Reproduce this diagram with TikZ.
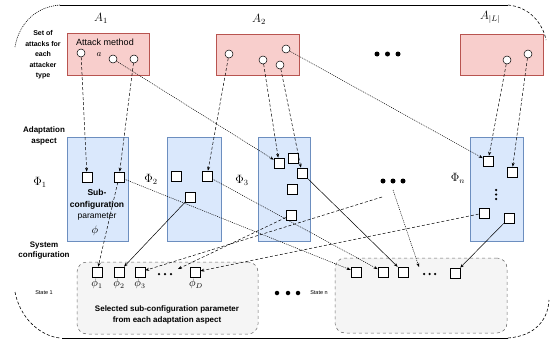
\documentclass[tikz,border=0pt]{standalone}
\usepackage{fontspec}
\setmainfont{Liberation Sans}
\usetikzlibrary{arrows.meta}
\definecolor{pinkfill}{HTML}{F8CECC}
\definecolor{pinkdraw}{HTML}{B85450}
\definecolor{bluefill}{HTML}{DAE8FC}
\definecolor{bluedraw}{HTML}{6C8EBF}
\definecolor{statefill}{HTML}{F5F5F5}
\definecolor{statedraw}{HTML}{666666}
\tikzset{
  circ/.style={circle,draw,fill=white,minimum size=8pt,inner sep=0pt,line width=0.5pt},
  sq/.style={rectangle,draw,fill=white,minimum size=10pt,inner sep=0pt,line width=0.6pt},
  pinkbox/.style={rectangle,draw=pinkdraw,fill=pinkfill,line width=0.7pt,inner sep=0pt},
  bluebox/.style={rectangle,draw=bluedraw,fill=bluefill,line width=0.7pt,inner sep=0pt},
  statebox/.style={rectangle,rounded corners=10pt,draw=statedraw,fill=statefill,dashed,line width=0.5pt,inner sep=0pt},
  arr/.style={-{Stealth[length=4pt,width=3pt]},line width=0.5pt},
  dsh/.style={dash pattern=on 3pt off 2pt},
  dt/.style={dash pattern=on 1pt off 1pt},
  lbl/.style={font=\bfseries\fontsize{7.5}{9.5}\selectfont,align=center,inner sep=0pt},
  bigdot/.style={circle,fill=black,minimum size=5pt,inner sep=0pt},
  smalldot/.style={circle,fill=black,minimum size=2.5pt,inner sep=0pt},
  mathlbl/.style={font=\fontsize{11.5}{13}\selectfont,inner sep=0pt},
  phlbl/.style={font=\fontsize{10.5}{12}\selectfont,inner sep=0pt}
}
\begin{document}
\begin{tikzpicture}[x=1pt,y=-1pt]
\useasboundingbox (0,0) rectangle (551,343);
% outer frame
\draw[line width=0.7pt] (60,5) -- (508,5);
\draw[line width=0.7pt] (62,338) -- (508,338);
\draw[dt,line width=0.6pt] (60,5) .. controls (32,7) and (18,28) .. (15,47);
\draw[dsh,line width=0.6pt] (508,5) .. controls (530,7) and (543,24) .. (546,40);
\draw[dsh,line width=0.6pt] (15,292) .. controls (20,318) and (40,336) .. (60,338);
\draw[dsh,line width=0.6pt] (508,338) .. controls (535,336) and (548,320) .. (549,300);

% top row: attack boxes
\node[pinkbox,minimum width=82,minimum height=42] (A1box) at (108,54) {};
\node[pinkbox,minimum width=83,minimum height=41] (A2box) at (257.5,54.5) {};
\node[pinkbox,minimum width=83,minimum height=41] (ALbox) at (501.5,54.5) {};
\node[mathlbl] (A1lbl) at (101,18) {$A_1$};
\node[mathlbl] (A2lbl) at (259,19) {$A_2$};
\node[mathlbl] (ALlbl) at (490,17) {$A_{|L|}$};
\node[font=\fontsize{9}{11}\selectfont,inner sep=0pt] (attm) at (105,42.5) {Attack method};
\node[font=\fontsize{9.5}{11}\selectfont,inner sep=0pt] (alpha) at (99,55) {$a$};
\node[circ] (a1c1) at (81,53) {};
\node[circ] (a1c2) at (113,59) {};
\node[circ] (a1c3) at (134,59) {};
\node[circ] (a2c1) at (229,54) {};
\node[circ] (a2c2) at (263,60) {};
\node[circ] (a2c3) at (280,65) {};
\node[circ] (a2c4) at (286,49) {};
\node[circ] (alc1) at (507,60) {};
\node[circ] (alc2) at (528,54) {};
\node[bigdot] (td1) at (377,54) {};
\node[bigdot] (td2) at (387.5,54) {};
\node[bigdot] (td3) at (398,54) {};
\node[lbl,font=\bfseries\fontsize{7}{10.5}\selectfont] (setlbl) at (43,55) {Set of\\attacks for\\each\\attacker\\type};

% middle row: adaptation aspects
\node[lbl,font=\bfseries\fontsize{8}{10.5}\selectfont] (adlbl) at (44,136) {Adaptation\\aspect};
\node[bluebox,minimum width=61,minimum height=104] (P1box) at (97.5,189) {};
\node[bluebox,minimum width=54,minimum height=104] (P2box) at (194,189) {};
\node[bluebox,minimum width=52,minimum height=104] (P3box) at (284,189) {};
\node[bluebox,minimum width=53,minimum height=104] (Pnbox) at (496.5,189) {};
\node[mathlbl] (P1lbl) at (40,182) {$\Phi_1$};
\node[mathlbl] (P2lbl) at (151,179) {$\Phi_2$};
\node[mathlbl] (P3lbl) at (242,180) {$\Phi_3$};
\node[mathlbl] (Pnlbl) at (458,178) {$\Phi_n$};
\node[sq] (p1s1) at (87,177) {};
\node[sq] (p1s2) at (119,177) {};
\node[lbl,font=\bfseries\fontsize{8.5}{11.5}\selectfont] (subcfg) at (97,205) {Sub-\\configuration\\{\mdseries parameter}};
\node[phlbl] (psi) at (95,231) {$\phi$};
\node[sq] (p2s1) at (176,176) {};
\node[sq] (p2s2) at (207,176) {};
\node[sq] (p2s3) at (190,197) {};
\node[sq] (p3s1) at (279,163) {};
\node[sq] (p3s2) at (293,158) {};
\node[sq] (p3s3) at (302,173) {};
\node[sq] (p3s4) at (292,189) {};
\node[sq] (p3s5) at (291,215) {};
\node[sq] (pns1) at (488,161) {};
\node[sq] (pns2) at (512,172) {};
\node[sq] (pns3) at (484,213) {};
\node[sq] (pns4) at (509,218) {};
\node[smalldot] (vd1) at (496,190) {};
\node[smalldot] (vd2) at (496,194.5) {};
\node[smalldot] (vd3) at (496,199) {};
\node[bigdot] (md1) at (383,181) {};
\node[bigdot] (md2) at (393,181) {};
\node[bigdot] (md3) at (403,181) {};
\coordinate (mdA) at (382,197);
\coordinate (mdB) at (393,190);

% bottom row: states
\node[lbl,font=\bfseries\fontsize{8}{10}\selectfont] (syslbl) at (44,251) {System\\configuration};
\node[statebox,minimum width=181,minimum height=72] (S1box) at (167.5,298) {};
\node[statebox,minimum width=172,minimum height=75] (Snbox) at (421,295.5) {};
\node[font=\fontsize{5.5}{7}\selectfont,inner sep=0pt] (st1) at (44,293) {State 1};
\node[bigdot,minimum size=4.5pt] (sd1) at (277,293) {};
\node[bigdot,minimum size=4.5pt] (sd2) at (288,293) {};
\node[bigdot,minimum size=4.5pt] (sd3) at (298,293) {};
\node[font=\fontsize{5.5}{7}\selectfont,inner sep=0pt] (stn) at (319,293) {State n};
\node[sq] (s1s1) at (97,272) {};
\node[sq] (s1s2) at (119,272) {};
\node[sq] (s1s3) at (140,272) {};
\node[sq] (s1sD) at (195,272) {};
\node[smalldot] (s1d1) at (159,274) {};
\node[smalldot] (s1d2) at (165,274) {};
\node[smalldot] (s1d3) at (171,274) {};
\coordinate (s1dt) at (178,269);
\node[phlbl] (phi1) at (97,284) {$\phi_1$};
\node[phlbl] (phi2) at (119,284) {$\phi_2$};
\node[phlbl] (phi3) at (140,284) {$\phi_3$};
\node[phlbl] (phiD) at (196,284) {$\phi_D$};
\node[lbl,font=\bfseries\fontsize{8}{10.5}\selectfont] (sellbl) at (167,315) {Selected sub-configuration parameter\\from each adaptation aspect};
\node[sq] (sns1) at (356,272) {};
\node[sq] (sns2) at (383,272) {};
\node[sq] (sns3) at (403,272) {};
\node[sq] (sns5) at (455,273) {};
\node[smalldot] (snd1) at (424,274) {};
\node[smalldot] (snd2) at (429.5,274) {};
\node[smalldot] (snd3) at (435,274) {};
\coordinate (sndt) at (419,267);

% top -> middle
\draw[arr,dsh] (a1c1) -- (p1s1);
\draw[arr,dsh] (a1c3) -- (p1s2);
\draw[arr,dt] (a1c2) -- (p3s1);
\draw[arr,dsh] (a2c1) -- (p2s2);
\draw[arr,dsh] (a2c2) -- (p3s1);
\draw[arr,dsh] (a2c3) -- (p3s3);
\draw[arr,dt] (a2c4) -- (pns1);
\draw[arr,dsh] (alc1) -- (pns1);
\draw[arr,dsh] (alc2) -- (pns2);

% middle -> bottom
\draw[arr,dsh] (p1s2) -- (s1s1);
\draw[arr] (p2s3) -- (s1s2);
\draw[arr,dsh] (mdA) -- (s1s3);
\draw[arr,dsh] (p3s5) -- (s1dt);
\draw[arr,dsh] (pns3) -- (s1sD);
\draw[arr,dt] (p1s2) -- (sns1);
\draw[arr,dt] (p2s2) -- (sns2);
\draw[arr] (p3s3) -- (sns3);
\draw[arr,dt] (mdB) -- (sndt);
\draw[arr] (pns4) -- (sns5);
\end{tikzpicture}
\end{document}
